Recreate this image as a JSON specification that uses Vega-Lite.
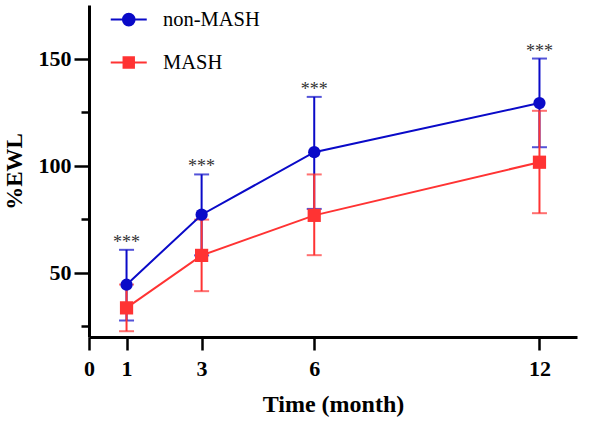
{
  "$schema": "https://vega.github.io/schema/vega-lite/v6.json",
  "width": 488,
  "height": 332,
  "autosize": "none",
  "padding": {"left": 89, "top": 5, "right": 13, "bottom": 87},
  "background": "white",
  "config": {
    "view": {"stroke": null},
    "font": "Liberation Serif",
    "axis": {
      "grid": false,
      "domainColor": "black",
      "domainWidth": 3,
      "tickColor": "black",
      "tickWidth": 2.5,
      "labelFont": "Liberation Serif",
      "labelFontWeight": "bold",
      "labelFontSize": 22,
      "labelColor": "black",
      "titleFont": "Liberation Serif",
      "titleFontWeight": "bold",
      "titleColor": "black"
    },
    "legend": {
      "labelFont": "Times New Roman, Liberation Serif, DejaVu Serif, serif",
      "labelFontSize": 20,
      "labelFontWeight": "normal",
      "labelColor": "black"
    }
  },
  "datasets": {
    "ewl": [
      {"month": 1, "group": "non-MASH", "mean": 44.4, "lo": 27.7, "hi": 60.7, "sig": "***"},
      {"month": 3, "group": "non-MASH", "mean": 77.1, "lo": 58.1, "hi": 95.9, "sig": "***"},
      {"month": 6, "group": "non-MASH", "mean": 106.3, "lo": 79.8, "hi": 132.1, "sig": "***"},
      {"month": 12, "group": "non-MASH", "mean": 129.2, "lo": 108.6, "hi": 150.0, "sig": "***"},
      {"month": 1, "group": "MASH", "mean": 33.6, "lo": 22.7, "hi": 44.5},
      {"month": 3, "group": "MASH", "mean": 58.1, "lo": 41.4, "hi": 74.8},
      {"month": 6, "group": "MASH", "mean": 76.8, "lo": 58.2, "hi": 95.9},
      {"month": 12, "group": "MASH", "mean": 101.6, "lo": 77.8, "hi": 125.6}
    ]
  },
  "data": {"name": "ewl"},
  "encoding": {
    "x": {
      "field": "month",
      "type": "quantitative",
      "scale": {"domain": [0, 13], "nice": false, "zero": false},
      "axis": {
        "title": "Time (month)",
        "titleFontSize": 24,
        "titlePadding": 13,
        "values": [0, 1, 3, 6, 12],
        "tickSize": 13,
        "labelPadding": 8,
        "labelFlush": false
      }
    }
  },
  "layer": [
    {
      "transform": [{"filter": "datum.group === 'non-MASH'"}],
      "mark": {"type": "errorbar", "ticks": true, "size": 15, "thickness": 2},
      "encoding": {
        "y": {"field": "lo", "type": "quantitative", "title": "%EWL"},
        "y2": {"field": "hi"},
        "color": {"field": "group", "type": "nominal"}
      }
    },
    {
      "transform": [{"filter": "datum.group === 'MASH'"}],
      "mark": {"type": "errorbar", "ticks": true, "size": 15, "thickness": 2},
      "encoding": {
        "y": {"field": "lo", "type": "quantitative", "title": "%EWL"},
        "y2": {"field": "hi"},
        "color": {"field": "group", "type": "nominal"}
      }
    },
    {
      "transform": [{"filter": "datum.group === 'MASH'"}],
      "mark": {"type": "line", "strokeWidth": 2},
      "encoding": {
        "y": {"field": "mean", "type": "quantitative", "title": "%EWL"},
        "color": {"field": "group", "type": "nominal"}
      }
    },
    {
      "transform": [{"filter": "datum.group === 'MASH'"}],
      "mark": {"type": "point", "shape": "square", "filled": true, "opacity": 1, "size": 175},
      "encoding": {
        "y": {"field": "mean", "type": "quantitative", "title": "%EWL"},
        "color": {"field": "group", "type": "nominal"}
      }
    },
    {
      "transform": [{"filter": "datum.group === 'non-MASH'"}],
      "mark": {"type": "line", "strokeWidth": 2},
      "encoding": {
        "y": {"field": "mean", "type": "quantitative", "title": "%EWL"},
        "color": {
          "field": "group",
          "type": "nominal",
          "scale": {"domain": ["non-MASH", "MASH"], "range": ["#0a0ac8", "#ff3333"]},
          "legend": {
            "title": null,
            "orient": "none",
            "legendX": 29.5,
            "legendY": 4.3,
            "padding": 0,
            "rowPadding": 22,
            "labelFont": "Times New Roman, Liberation Serif, DejaVu Serif, serif",
            "labelFontSize": 20.5,
            "labelFontWeight": "normal",
            "labelColor": "black",
            "labelOffset": 24,
            "symbolSize": 169,
            "symbolStrokeWidth": 2,
            "encode": {
              "symbols": {
                "update": {
                  "shape": {"signal": "datum.value === 'MASH' ? 'M-2.77,0H2.77M-0.8,-0.8H0.8V0.8H-0.8Z' : 'M-2.77,0H2.77M-0.9,0A0.9,0.9,0,1,0,0.9,0A0.9,0.9,0,1,0,-0.9,0Z'"},
                  "fill": {"signal": "datum.value === 'MASH' ? '#ff3333' : '#0a0ac8'"},
                  "stroke": {"signal": "datum.value === 'MASH' ? '#ff3333' : '#0a0ac8'"},
                  "strokeWidth": {"value": 2},
                  "opacity": {"value": 1}
                }
              }
            }
          }
        }
      }
    },
    {
      "transform": [{"filter": "datum.group === 'non-MASH'"}],
      "mark": {"type": "point", "shape": "circle", "filled": true, "opacity": 1, "size": 150},
      "encoding": {
        "y": {
          "field": "mean",
          "type": "quantitative",
          "title": "%EWL",
          "scale": {"domain": [20, 175], "nice": false, "zero": false},
          "axis": {
            "title": "%EWL",
            "titleFontSize": 23,
            "titlePadding": 12,
            "values": [25, 50, 75, 100, 125, 150],
            "labelExpr": "datum.value % 50 === 0 ? datum.label : ''",
            "tickSize": {"condition": {"test": "datum.value % 50 === 0", "value": 15}, "value": 8},
            "labelPadding": 3
          }
        },
        "color": {"field": "group", "type": "nominal"}
      }
    },
    {
      "transform": [{"filter": "isValid(datum.sig)"}],
      "mark": {"type": "text", "font": "Times New Roman, Liberation Serif, DejaVu Serif, serif", "fontSize": 18, "color": "#333333", "baseline": "alphabetic", "dy": -2},
      "encoding": {
        "y": {"field": "hi", "type": "quantitative", "title": "%EWL"},
        "text": {"field": "sig"}
      }
    }
  ]
}
